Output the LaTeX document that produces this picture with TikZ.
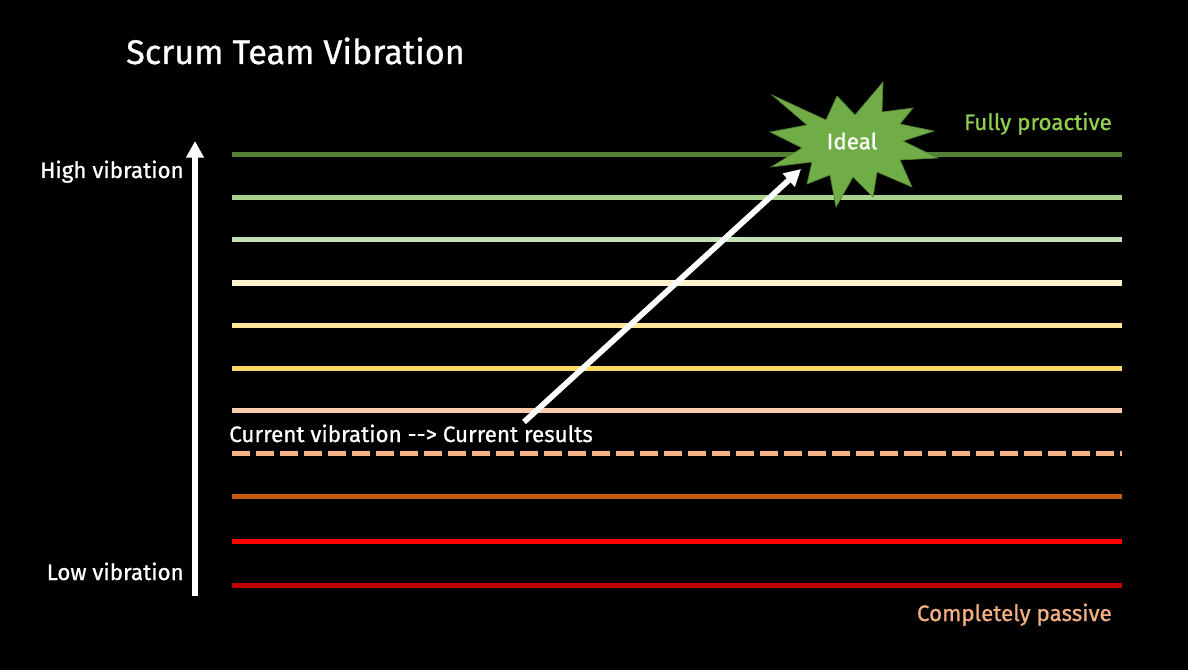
\documentclass[tikz,border=0pt]{standalone}
\usepackage{fontspec}
\setmainfont{Fira Sans}[FakeBold=0.8]
\usetikzlibrary{arrows.meta}
\definecolor{cA}{HTML}{548235}
\definecolor{cB}{HTML}{A9D18E}
\definecolor{cC}{HTML}{C5E0B4}
\definecolor{cD}{HTML}{FFF2CC}
\definecolor{cE}{HTML}{FFE699}
\definecolor{cF}{HTML}{FFD966}
\definecolor{cG}{HTML}{F8CBAD}
\definecolor{cH}{HTML}{F4B183}
\definecolor{cI}{HTML}{C55A11}
\definecolor{cJ}{HTML}{FF0000}
\definecolor{cK}{HTML}{C00000}
\definecolor{proact}{HTML}{92D050}
\definecolor{starfill}{HTML}{70AD47}
\definecolor{starline}{HTML}{507E32}
\tikzset{
  lvl/.style={line width=3.75pt},
  lbl/.style={text=white, font=\fontsize{16.8}{20}\selectfont, inner sep=0pt},
  bigarrow/.style={white, line width=4.3pt, -{Triangle[length=12.5pt,width=12.75pt]}},
}
\begin{document}
\begin{tikzpicture}[x=0.75pt,y=-0.75pt]
\fill[black] (0,0) rectangle (1188,670);
\useasboundingbox (0,0) rectangle (1188,670);

% title
\node[lbl, font=\fontsize{25.6}{30}\selectfont, anchor=base west] (title) at (126,64) {Scrum Team Vibration};

% level lines
\foreach \y/\c in {155/cA,198/cB,240/cC,283/cD,325/cE,368/cF,410/cG,496/cI,541/cJ,585/cK}{
  \draw[lvl, draw=\c] (232,\y) -- (1122,\y);
}
\draw[lvl, draw=cH, dash pattern=on 13.5pt off 4.5pt] (232,453) -- (1122,453);

% vertical arrow
\coordinate (vlow) at (195,596);
\coordinate (vhigh) at (195,141);
\draw[bigarrow] (vlow) -- (vhigh);

\node[lbl, anchor=base east] (high) at (184,178) {High vibration};
\node[lbl, anchor=base east] (low) at (184,580) {Low vibration};

% star
\filldraw[fill=starfill, draw=starline, line width=0.5pt]
 (772,95) -- (826,120) -- (837,96) -- (855,115) -- (883,82) -- (882,112)
 -- (913,108) -- (900,124) -- (934,131) -- (903,141) -- (938,158) -- (900,160)
 -- (912,187) -- (877,172) -- (873,197) -- (853,177) -- (836,207) -- (830,175)
 -- (807,184) -- (812,162) -- (771,167) -- (802,148) -- (770,132) -- (807,125) -- cycle;
\node[lbl] (ideal) at (852,141) {Ideal};

% diagonal arrow
\node[lbl, anchor=base west] (current) at (229,442) {Current vibration -{}-{}> Current results};
\coordinate (dstart) at (524,422);
\coordinate (dend) at (801,169);
\draw[bigarrow] (dstart) -- (dend);

\node[lbl, text=proact, anchor=base east] (full) at (1112,130) {Fully proactive};
\node[lbl, text=cH, anchor=base east] (passive) at (1112,621) {Completely passive};
\end{tikzpicture}
\end{document}
